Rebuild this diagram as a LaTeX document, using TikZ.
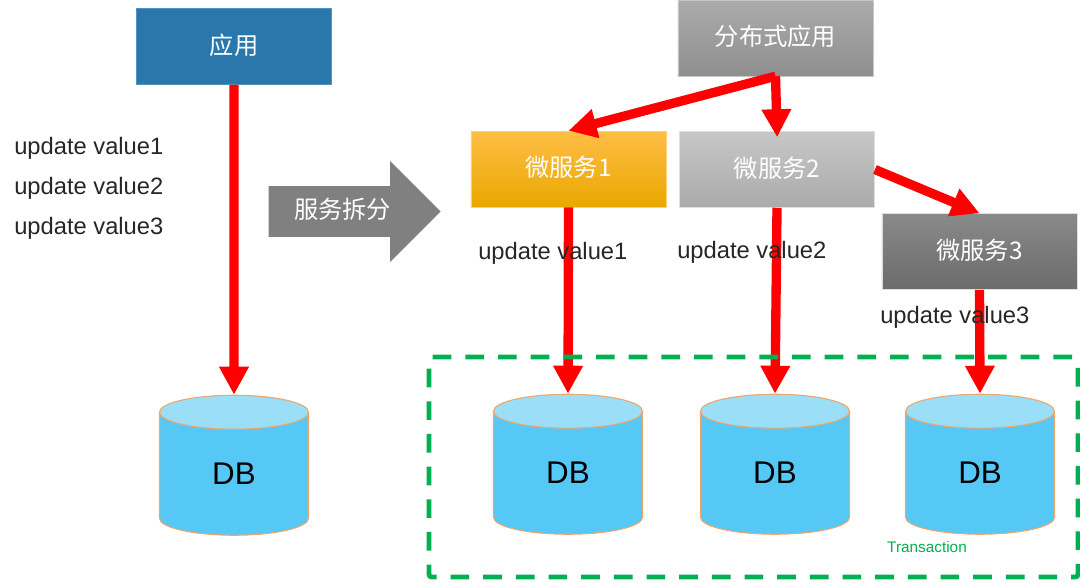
\documentclass[tikz,border=0pt]{standalone}
\usepackage{fontspec}
\setmainfont{Liberation Sans}
\newfontfamily\cjk{Noto Sans CJK SC}
\usetikzlibrary{arrows.meta,shapes.geometric,shapes.arrows}

\definecolor{appblue}{RGB}{42,120,171}
\definecolor{redline}{RGB}{255,0,0}
\definecolor{txgreen}{RGB}{0,176,80}
\definecolor{dbbody}{RGB}{86,200,245}
\definecolor{dbtop}{RGB}{154,222,248}
\definecolor{dbedge}{RGB}{240,165,105}
\definecolor{ambertop}{RGB}{255,190,70}
\definecolor{ambermid}{RGB}{253,185,19}
\definecolor{amberlow}{RGB}{233,168,0}

\tikzset{
  svcbox/.style={rectangle,minimum width=146.5pt,minimum height=57pt,inner sep=0pt,text=white,
    text height=15pt,text depth=3.2pt,font=\fontsize{18.2}{20}\selectfont\cjk},
  dbnode/.style={cylinder,shape border rotate=90,shape aspect=0.78,draw=dbedge,line width=0.8pt,
    cylinder uses custom fill,cylinder body fill=dbbody,cylinder end fill=dbtop,
    minimum width=111.75pt,minimum height=105pt,inner sep=0pt,font=\fontsize{23.5}{26}\selectfont},
  redarrow/.style={draw=redline,line width=7pt,-{Triangle[length=21pt,width=21pt]}},
  updatetext/.style={inner sep=0pt,anchor=west,text=black!85,font=\fontsize{17.8}{20}\selectfont},
}

\begin{document}
\begin{tikzpicture}[x=0.75pt,y=0.75pt,yscale=-1,xscale=1]
\useasboundingbox (0,0) rectangle (1080,582);

% Boxes
\node [svcbox,fill=appblue,draw=appblue!80!white] (app) at (234,46.5) {应用};
\node [svcbox,top color=black!33,bottom color=black!44,draw=black!22] (dist) at (775.5,38) {分布式应用};
\node [svcbox,top color=ambertop,middle color=ambermid,bottom color=amberlow,draw=ambertop!70] (svcone) at (568.5,169) {{\cjk 微服务}1};
\node [svcbox,top color=black!22,bottom color=black!33,draw=black!12] (svctwo) at (777,169.5) {{\cjk 微服务}2};
\node [svcbox,top color=black!46,bottom color=black!58,draw=black!12] (svcthree) at (979.5,251.5) {{\cjk 微服务}3};

% Databases
\node [dbnode] (dbmain) at (234,474) {DB};
\node [dbnode] (dbone) at (568,473) {DB};
\node [dbnode] (dbtwo) at (775,473) {DB};
\node [dbnode] (dbthree) at (980,473) {DB};

% Split arrow
\node [single arrow,fill=black!50,text=white,minimum height=129pt,minimum width=75.75pt,
  single arrow head extend=19pt,inner sep=0pt,text height=24pt,text depth=13.5pt,text width=72pt,align=center,
  font=\fontsize{18.2}{20}\selectfont\cjk] (split) at (342,211.5) {服务拆分};

% Red connectors
\draw [redarrow] (app.south) -- (dbmain.north);
\draw [redarrow] (dist.south) -- (svcone.north);
\draw [redarrow,shorten >=-4.5pt] (dist.south) -- (svctwo.north);
\draw [redarrow] (svctwo.east) -- (svcthree.north);
\draw [redarrow] (svcone.south) -- (dbone.north);
\draw [redarrow] (svctwo.south) -- (dbtwo.north);
\draw [redarrow] (svcthree.south) -- (dbthree.north);

% Transaction frame
\node [rectangle,draw=txgreen,line width=3.6pt,dash pattern=on 14pt off 10.5pt,dash phase=22pt,rounded corners=2pt,
  minimum width=486.75pt,minimum height=165pt,inner sep=0pt] (txframe) at (753.5,467) {};
\node [inner sep=0pt,text=txgreen,font=\fontsize{11.5}{13}\selectfont] (txlabel) at (927,547) {Transaction};

% Text Node
\node [updatetext] (leftone) at (14,148) {update value1};
\node [updatetext] (lefttwo) at (14,188) {update value2};
\node [updatetext] (leftthree) at (14,228) {update value3};
\node [updatetext] (svconetext) at (478,253) {update value1};
\node [updatetext] (svctwotext) at (677,252) {update value2};
\node [updatetext] (svcthreetext) at (880,317) {update value3};

\end{tikzpicture}
\end{document}
